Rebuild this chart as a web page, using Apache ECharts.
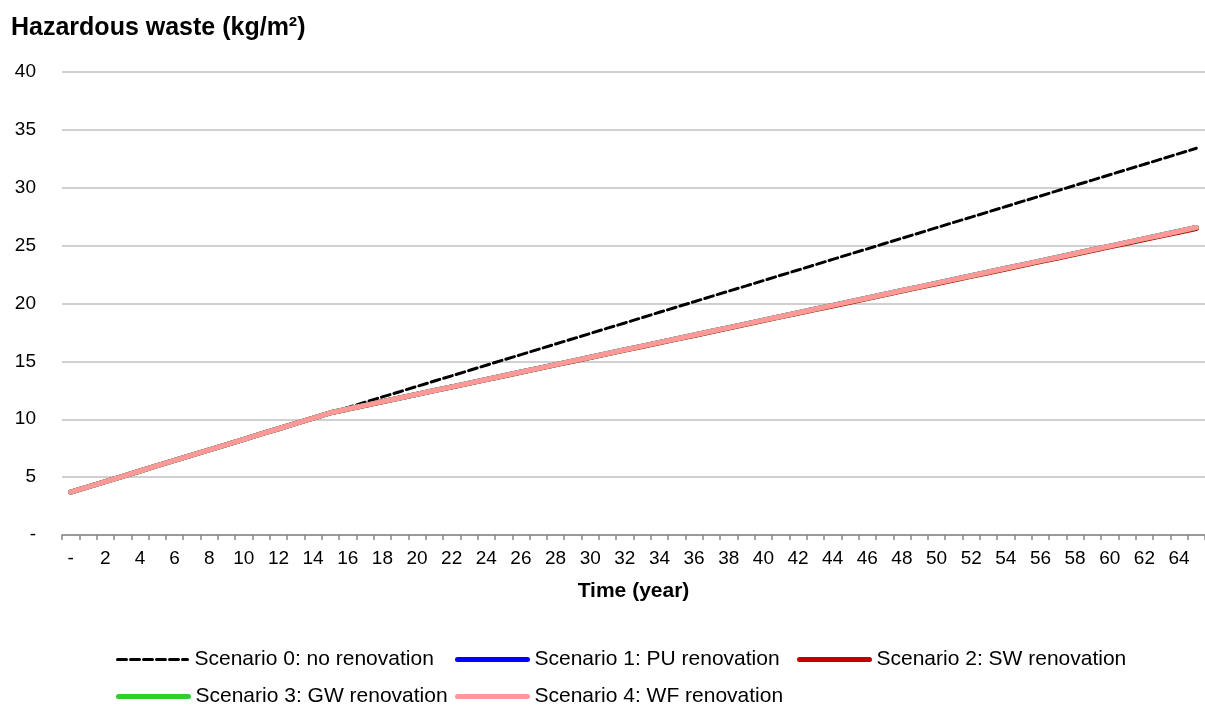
<!DOCTYPE html>
<html>
<head>
<meta charset="utf-8">
<script src="https://cdn.jsdelivr.net/npm/echarts@6/dist/echarts.min.js"></script>
<style>
    html, body { margin: 0; padding: 0; background: #fff; }
    #chart { width: 1205px; height: 708px; }
</style>
</head>
<body>
<div id="chart"></div>
<script>
// years on the x axis, the first one is shown as "-"
var years = ['-', '1', '2', '3', '4', '5', '6', '7', '8', '9', '10', '11', '12', '13', '14', '15', '16', '17', '18', '19', '20',
    '21', '22', '23', '24', '25', '26', '27', '28', '29', '30', '31', '32', '33', '34', '35', '36', '37', '38', '39', '40',
    '41', '42', '43', '44', '45', '46', '47', '48', '49', '50', '51', '52', '53', '54', '55', '56', '57', '58', '59', '60',
    '61', '62', '63', '64', '65'];

var scenario0 = [3.70, 4.16, 4.61, 5.07, 5.53, 5.99, 6.44, 6.90, 7.36, 7.81, 8.27, 8.73, 9.18, 9.64, 10.10, 10.56,
    11.01, 11.47, 11.93, 12.38, 12.84, 13.30, 13.75, 14.21, 14.67, 15.13, 15.58, 16.04, 16.50, 16.95, 17.41,
    17.87, 18.32, 18.78, 19.24, 19.70, 20.15, 20.61, 21.07, 21.52, 21.98, 22.44, 22.89, 23.35, 23.81, 24.27,
    24.72, 25.18, 25.64, 26.09, 26.55, 27.01, 27.46, 27.92, 28.38, 28.84, 29.29, 29.75, 30.21, 30.66, 31.12,
    31.58, 32.03, 32.49, 32.95, 33.41];

var scenario1 = [3.70, 4.16, 4.61, 5.07, 5.53, 5.99, 6.44, 6.90, 7.36, 7.81, 8.27, 8.73, 9.18, 9.64, 10.10, 10.56,
    10.88, 11.20, 11.52, 11.84, 12.16, 12.48, 12.80, 13.12, 13.44, 13.76, 14.08, 14.40, 14.72, 15.04, 15.36,
    15.68, 16.00, 16.32, 16.64, 16.96, 17.28, 17.60, 17.92, 18.24, 18.56, 18.88, 19.20, 19.52, 19.84, 20.16,
    20.48, 20.80, 21.12, 21.44, 21.76, 22.08, 22.40, 22.72, 23.04, 23.36, 23.68, 24.00, 24.32, 24.64, 24.96,
    25.28, 25.60, 25.92, 26.24, 26.56];

var scenario2 = [3.70, 4.16, 4.61, 5.07, 5.53, 5.99, 6.44, 6.90, 7.36, 7.81, 8.27, 8.73, 9.18, 9.64, 10.10, 10.56,
    10.87, 11.19, 11.51, 11.83, 12.15, 12.47, 12.78, 13.10, 13.42, 13.74, 14.06, 14.38, 14.70, 15.01, 15.33,
    15.65, 15.97, 16.29, 16.61, 16.93, 17.24, 17.56, 17.88, 18.20, 18.52, 18.84, 19.16, 19.47, 19.79, 20.11,
    20.43, 20.75, 21.07, 21.39, 21.70, 22.02, 22.34, 22.66, 22.98, 23.30, 23.62, 23.93, 24.25, 24.57, 24.89,
    25.21, 25.53, 25.85, 26.16, 26.48];

var scenario3 = [3.70, 4.16, 4.61, 5.07, 5.53, 5.99, 6.44, 6.90, 7.36, 7.81, 8.27, 8.73, 9.18, 9.64, 10.10, 10.56,
    10.88, 11.20, 11.52, 11.84, 12.16, 12.48, 12.80, 13.12, 13.44, 13.76, 14.08, 14.40, 14.72, 15.04, 15.36,
    15.68, 16.00, 16.32, 16.64, 16.96, 17.28, 17.60, 17.92, 18.24, 18.56, 18.88, 19.20, 19.52, 19.84, 20.16,
    20.48, 20.80, 21.12, 21.44, 21.76, 22.08, 22.40, 22.72, 23.04, 23.36, 23.68, 24.00, 24.32, 24.64, 24.96,
    25.28, 25.60, 25.92, 26.24, 26.56];

var scenario4 = [3.70, 4.16, 4.61, 5.07, 5.53, 5.99, 6.44, 6.90, 7.36, 7.81, 8.27, 8.73, 9.18, 9.64, 10.10, 10.56,
    10.88, 11.20, 11.52, 11.84, 12.16, 12.48, 12.80, 13.12, 13.44, 13.76, 14.08, 14.40, 14.72, 15.04, 15.36,
    15.68, 16.00, 16.32, 16.64, 16.96, 17.28, 17.60, 17.92, 18.24, 18.56, 18.88, 19.20, 19.52, 19.84, 20.16,
    20.48, 20.80, 21.12, 21.44, 21.76, 22.08, 22.40, 22.72, 23.04, 23.36, 23.68, 24.00, 24.32, 24.64, 24.96,
    25.28, 25.60, 25.92, 26.24, 26.58];

var names = ['Scenario 0: no renovation', 'Scenario 1: PU renovation', 'Scenario 2: SW renovation',
    'Scenario 3: GW renovation', 'Scenario 4: WF renovation'];

var font = 'Liberation Sans, Arial, sans-serif';

var chart = echarts.init(document.getElementById('chart'));

var lineSeries = function (name, data, color, width, type) {
    return {
        name: name,
        type: 'line',
        data: data,
        symbol: 'none',
        animation: false,
        lineStyle: { color: color, width: width, type: type || 'solid', cap: 'round' },
        itemStyle: { color: color }
    };
};

// legend laid out as a grid: 3 columns, 2 rows
var legendCols = [116, 455, 797], legendRows = [649, 686];
var legends = names.map(function (name, i) {
    return {
        left: legendCols[i % 3],
        top: legendRows[Math.floor(i / 3)],
        padding: 0,
        itemWidth: 70,
        itemHeight: 14,
        itemStyle: { opacity: 0 },
        lineStyle: { width: 'inherit' },
        textStyle: { fontFamily: font, fontSize: 21, color: '#000', padding: [0, 0, 0, 2] },
        data: [name]
    };
});

chart.setOption({
    backgroundColor: '#fff',
    title: {
        text: 'Hazardous waste (kg/m²)',
        left: 6,
        top: 11,
        textStyle: { fontFamily: font, fontSize: 25, fontWeight: 'bold', color: '#000' }
    },
    legend: legends,
    grid: {
        left: 62,
        right: 0,
        top: 72,
        bottom: 173
    },
    xAxis: {
        type: 'category',
        data: years,
        boundaryGap: true,
        name: 'Time (year)',
        nameLocation: 'middle',
        nameGap: 46,
        nameTextStyle: { fontFamily: font, fontSize: 21, fontWeight: 'bold', color: '#000' },
        axisLine: { lineStyle: { color: '#888', width: 1.5 } },
        axisTick: { show: true, interval: 0, length: 5, lineStyle: { color: '#888', width: 1.5 } },
        axisLabel: { interval: 1, margin: 14, fontFamily: font, fontSize: 19, color: '#000' },
        splitLine: { show: false }
    },
    yAxis: {
        type: 'value',
        min: 0,
        max: 40,
        interval: 5,
        axisLine: { show: false },
        axisTick: { show: false },
        axisLabel: {
            margin: 26,
            fontFamily: font,
            fontSize: 19,
            color: '#000',
            formatter: function (v) {
                return v === 0 ? '-' : v;
            }
        },
        splitLine: { lineStyle: { color: '#c0c0c0', width: 1.5 } }
    },
    series: [
        lineSeries(names[0], scenario0, '#000000', 3, [9, 4]),
        lineSeries(names[1], scenario1, '#0000ff', 5),
        lineSeries(names[2], scenario2, '#c00000', 5),
        lineSeries(names[3], scenario3, '#33cc33', 5),
        lineSeries(names[4], scenario4, '#ff9999', 5)
    ]
});
</script>
</body>
</html>
